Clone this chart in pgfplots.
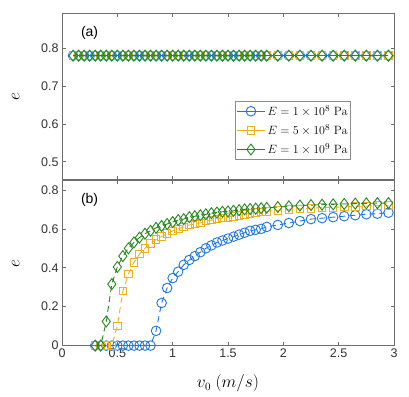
\documentclass[border=0pt]{standalone}
\usepackage{pgfplots}
\pgfplotsset{compat=1.18}
\usepackage[no-math]{fontspec}
\setmainfont{Liberation Sans}

\definecolor{cblue}{RGB}{30,118,222}
\definecolor{cyel}{RGB}{237,177,32}
\definecolor{cgreen}{RGB}{38,135,30}
\definecolor{axgray}{RGB}{110,110,110}

\pgfplotstableread{
v    e1   e5   e10
0.30 0    0    0
0.35 0    0    0
0.40 0    0    0.124
0.45 0    0    0.316
0.50 0    0.10 0.404
0.55 0    0.28 0.46
0.60 0    0.368 0.50
0.65 0    0.428 0.53
0.70 0    0.47 0.555
0.75 0    0.50 0.575
0.80 0    0.525 0.59
0.85 0.076 0.545 0.605
0.90 0.219 0.56 0.615
0.95 0.296 0.575 0.625
1.00 0.347 0.59 0.635
1.05 0.38 0.60 0.645
1.10 0.415 0.61 0.65
1.15 0.44 0.62 0.66
1.20 0.46 0.625 0.665
1.25 0.48 0.63 0.67
1.30 0.50 0.64 0.675
1.35 0.515 0.645 0.68
1.40 0.53 0.65 0.684
1.45 0.54 0.655 0.688
1.50 0.55 0.66 0.69
1.55 0.56 0.665 0.693
1.60 0.57 0.67 0.696
1.65 0.58 0.675 0.70
1.70 0.59 0.68 0.702
1.75 0.595 0.683 0.704
1.80 0.60 0.686 0.706
1.85 0.61 0.69 0.708
1.95 0.62 0.695 0.712
2.05 0.63 0.70 0.716
2.15 0.64 0.703 0.72
2.25 0.65 0.706 0.722
2.35 0.655 0.709 0.724
2.45 0.66 0.711 0.726
2.55 0.665 0.713 0.728
2.65 0.67 0.715 0.73
2.75 0.675 0.717 0.731
2.85 0.678 0.719 0.732
2.95 0.683 0.72 0.733
}\datab

\pgfplotstableread{
v    e
0.10 0.78
0.15 0.78
0.20 0.78
0.25 0.78
0.30 0.78
0.35 0.78
0.40 0.78
0.45 0.78
0.50 0.78
0.55 0.78
0.60 0.78
0.65 0.78
0.70 0.78
0.75 0.78
0.80 0.78
0.85 0.78
0.90 0.78
0.95 0.78
1.00 0.78
1.05 0.78
1.10 0.78
1.15 0.78
1.20 0.78
1.25 0.78
1.30 0.78
1.35 0.78
1.40 0.78
1.45 0.78
1.50 0.78
1.55 0.78
1.60 0.78
1.65 0.78
1.70 0.78
1.75 0.78
1.80 0.78
1.85 0.78
1.95 0.78
2.05 0.78
2.15 0.78
2.25 0.78
2.35 0.78
2.45 0.78
2.55 0.78
2.65 0.78
2.75 0.78
2.85 0.78
2.95 0.78
}\dataa

\pgfplotsset{
  panel/.style={
    scale only axis, width=332pt,
    xmin=0, xmax=3,
    xtick={0,0.5,...,3},
    tick align=inside, major tick length=3.5pt,
    axis line style={axgray, line width=0.6pt},
    tick style={axgray, line width=0.6pt},
    ticklabel style={font=\fontsize{12.5}{14}\selectfont, text=black!80},
    /pgf/number format/assume math mode=true,
    y label style={font=\fontsize{17}{19}\selectfont},
    ylabel={$e$},
  },
  mk/.style={line width=0.9pt, mark options={solid, line width=0.9pt}},
  mo/.style={mk, mark=o, mark size=4.8pt},
  ms/.style={mk, mark=square, mark size=3.8pt},
  md/.style={mk, mark=diamond, mark size=5.5pt},
}

\begin{document}
\begin{tikzpicture}
\useasboundingbox (-62pt,-50.4pt) rectangle (347pt,345.6pt);

% (a)
\begin{axis}[panel, at={(0pt,166pt)}, anchor=south west, height=166pt,
  ymin=0.453, ymax=0.891, ytick={0.5,0.6,0.7,0.8},
  yticklabels={0.5,0.6,0.7,0.8},
  xticklabels={},
  ylabel style={at={(axis description cs:-0.118,0.5)}},
  legend style={at={(axis description cs:0.521,0.12)}, anchor=south west,
    draw=black!45, line width=0.6pt, inner xsep=1pt, inner ysep=2pt,
    font=\fontsize{13}{19}\selectfont, row sep=3.5pt},
  legend cell align=left,
  legend image code/.code={
    \draw[mark repeat=2, mark phase=2, #1] plot coordinates {(0cm,0cm) (0.5cm,0cm) (1cm,0cm)};},
  legend image post style={mark options={solid}},
]
\addplot[cblue, mo] table[x=v,y=e] {\dataa};
\addlegendentry{$E=1\times10^8~\mathrm{Pa}$}
\addplot[cyel, ms] table[x=v,y=e] {\dataa};
\addlegendentry{$E=5\times10^8~\mathrm{Pa}$}
\addplot[cgreen, md] table[x=v,y=e] {\dataa};
\addlegendentry{$E=1\times10^9~\mathrm{Pa}$}
\node[anchor=west, font=\fontsize{14}{16}\selectfont] at (axis cs:0.14,0.84) {(a)};
\end{axis}

% (b)
\begin{axis}[panel, at={(0pt,0pt)}, anchor=south west, height=165pt,
  ymin=0, ymax=0.848, ytick={0,0.2,0.4,0.6,0.8},
  yticklabels={0,0.2,0.4,0.6,0.8},
  xticklabels={0,0.5,1,1.5,2,2.5,3},
  ylabel style={at={(axis description cs:-0.118,0.5)}},
  xlabel={$v_0~(m/s)$},
  x label style={font=\fontsize{16}{18}\selectfont, at={(axis description cs:0.5,-0.155)}},
]
\addplot[cblue, mo, dash pattern=on 6pt off 4pt] table[x=v,y=e1] {\datab};
\addplot[cyel, ms, dash pattern=on 6pt off 4pt] table[x=v,y=e5] {\datab};
\addplot[cgreen, md, dash pattern=on 6pt off 4pt] table[x=v,y=e10] {\datab};
\node[anchor=west, font=\fontsize{14}{16}\selectfont] at (axis cs:0.14,0.75) {(b)};
\end{axis}
\end{tikzpicture}
\end{document}
